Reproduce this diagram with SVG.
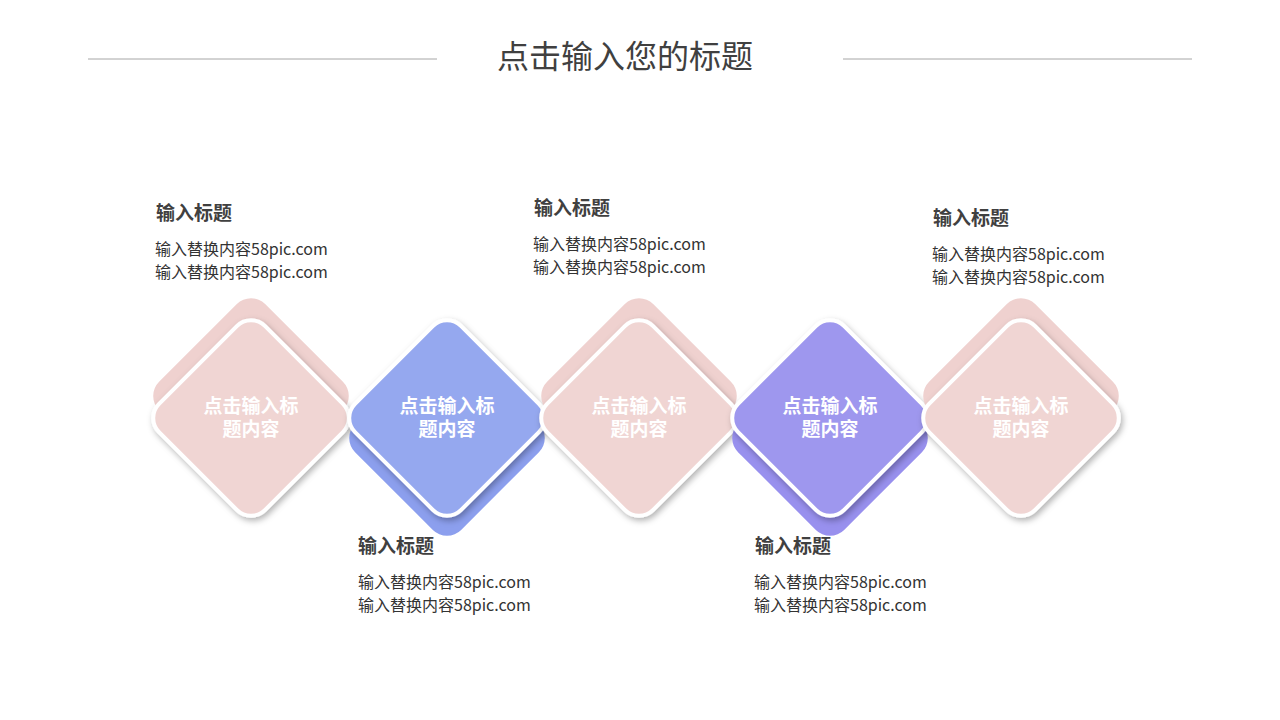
<svg xmlns="http://www.w3.org/2000/svg" width="1280" height="720" viewBox="0 0 1280 720">
<defs>
<style>
.t{font-family:"Noto Sans CJK SC","Liberation Sans",sans-serif;}
.h{font-size:32px;fill:#404040;}
.ti{font-size:19px;font-weight:bold;fill:#404040;}
.b{font-size:16px;fill:#333333;}
.d{font-size:19px;font-weight:bold;fill:#ffffff;text-anchor:middle;}
.front{stroke:#ffffff;stroke-width:4;}
.pink{fill:#F0D5D3;}
.pinkb{fill:#EFD1CF;}
.blue{fill:#95A8EF;}
.blueb{fill:#8C9FEE;}
.purp{fill:#9E97EE;}
.purpb{fill:#9890EE;}
.ln{stroke:#A6A6A6;stroke-width:1;}
</style>
<filter id="sh" x="-30%" y="-30%" width="160%" height="160%">
<feDropShadow dx="2" dy="3" stdDeviation="3" flood-color="#000" flood-opacity="0.3"/>
</filter>
<rect id="dm" x="-75" y="-75" width="150" height="150" rx="20" ry="20" transform="rotate(45)"/>
</defs>
<rect width="1280" height="720" fill="#ffffff"/>
<g id="header">
<line class="ln" x1="88" y1="59" x2="437" y2="59"/>
<line class="ln" x1="843" y1="59" x2="1192" y2="59"/>
<text class="t h" x="625" y="68" text-anchor="middle">点击输入您的标题</text>
</g>
<g id="node1">
<use href="#dm" class="pinkb" transform="translate(251,396)"/>
<use href="#dm" class="pink front" filter="url(#sh)" transform="translate(251,418)"/>
<text class="t d" x="251" y="413">点击输入标<tspan x="251" dy="23">题内容</tspan></text>
<text class="t ti" x="156" y="220">输入标题</text>
<text class="t b" x="155" y="255">输入替换内容58pic.com</text>
<text class="t b" x="155" y="278">输入替换内容58pic.com</text>
</g>
<g id="node2">
<use href="#dm" class="blueb" transform="translate(447,438)"/>
<use href="#dm" class="blue front" filter="url(#sh)" transform="translate(447,418)"/>
<text class="t d" x="447" y="413">点击输入标<tspan x="447" dy="23">题内容</tspan></text>
<text class="t ti" x="358" y="553">输入标题</text>
<text class="t b" x="358" y="588">输入替换内容58pic.com</text>
<text class="t b" x="358" y="611">输入替换内容58pic.com</text>
</g>
<g id="node3">
<use href="#dm" class="pinkb" transform="translate(639,396)"/>
<use href="#dm" class="pink front" filter="url(#sh)" transform="translate(639,418)"/>
<text class="t d" x="639" y="413">点击输入标<tspan x="639" dy="23">题内容</tspan></text>
<text class="t ti" x="534" y="215">输入标题</text>
<text class="t b" x="533" y="250">输入替换内容58pic.com</text>
<text class="t b" x="533" y="273">输入替换内容58pic.com</text>
</g>
<g id="node4">
<use href="#dm" class="purpb" transform="translate(830,438)"/>
<use href="#dm" class="purp front" filter="url(#sh)" transform="translate(830,418)"/>
<text class="t d" x="830" y="413">点击输入标<tspan x="830" dy="23">题内容</tspan></text>
<text class="t ti" x="755" y="553">输入标题</text>
<text class="t b" x="754" y="588">输入替换内容58pic.com</text>
<text class="t b" x="754" y="611">输入替换内容58pic.com</text>
</g>
<g id="node5">
<use href="#dm" class="pinkb" transform="translate(1021,396)"/>
<use href="#dm" class="pink front" filter="url(#sh)" transform="translate(1021,418)"/>
<text class="t d" x="1021" y="413">点击输入标<tspan x="1021" dy="23">题内容</tspan></text>
<text class="t ti" x="933" y="225">输入标题</text>
<text class="t b" x="932" y="260">输入替换内容58pic.com</text>
<text class="t b" x="932" y="283">输入替换内容58pic.com</text>
</g>
<g id="connectors"></g>
</svg>
